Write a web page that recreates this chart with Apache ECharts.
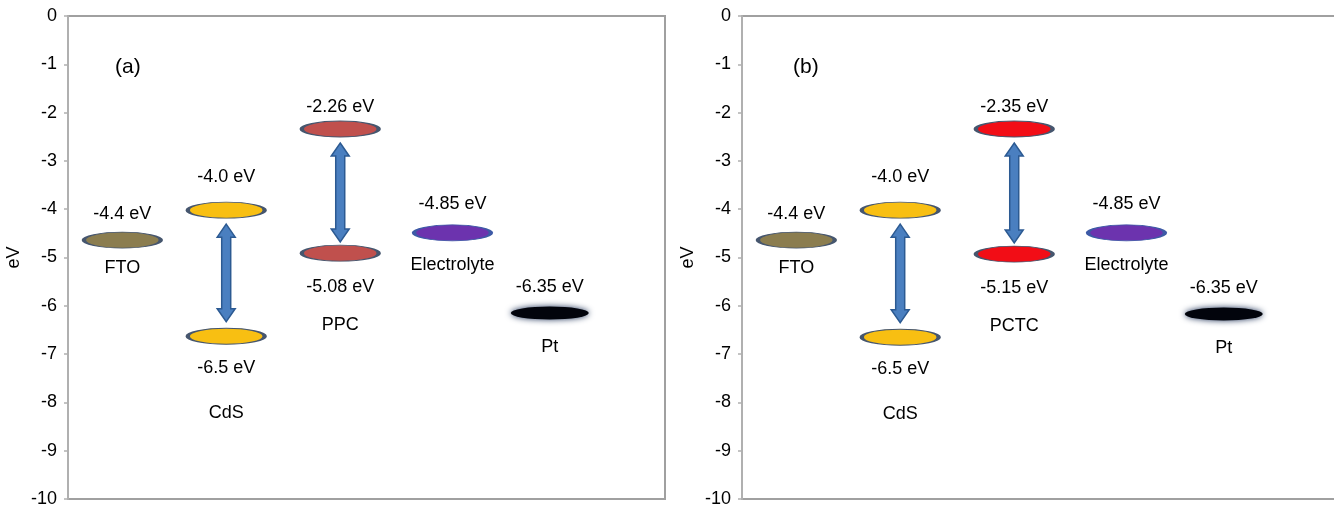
<!DOCTYPE html>
<html>
<head>
<meta charset="utf-8">
<title>Energy levels</title>
<script src="https://cdn.jsdelivr.net/npm/echarts@6/dist/echarts.min.js"></script>
<style>
  html, body { margin: 0; padding: 0; background: #fff; }
  #chart { width: 1334px; height: 506px; }
</style>
</head>
<body>
<div id="chart"></div>
<script>
// level order: FTO, CdS CB, CdS VB, polymer LUMO, polymer HOMO, Electrolyte, Pt
const levelX = [9.1, 26.5, 26.5, 45.6, 45.6, 64.4, 80.7];
const levelsA = [-4.64, -4.02, -6.63, -2.34, -4.91, -4.49, -6.15];
const levelsB = [-4.64, -4.02, -6.65, -2.34, -4.93, -4.49, -6.17];
const energyA = ["-4.4 eV", "-4.0 eV", "-6.5 eV", "-2.26 eV", "-5.08 eV", "-4.85 eV", "-6.35 eV"];
const energyB = ["-4.4 eV", "-4.0 eV", "-6.5 eV", "-2.35 eV", "-5.15 eV", "-4.85 eV", "-6.35 eV"];
const namesA = ["FTO", "CdS", "PPC", "Electrolyte", "Pt"];
const namesB = ["FTO", "CdS", "PCTC", "Electrolyte", "Pt"];
const nameAnchor = [0, 2, 4, 5, 6];
// arrows: [x, top tip, bottom tip]
const arrowsA = [[26.5, -4.31, -6.33], [45.6, -2.63, -4.68]];
const arrowsB = [[26.5, -4.31, -6.35], [45.6, -2.63, -4.70]];
const yTicks = [0, -1, -2, -3, -4, -5, -6, -7, -8, -9, -10];

// layout / style
const energyDy = [-26, -33, 32, -22, 34, -29, -26];
const nameDy = [28, 77, 72, 32, 34];
const fillA = ["#8b7d4f", "#f8bf12", "#f8bf12", "#c0504d", "#c0504d", "#6c33ae", "#000000"];
const fillB = ["#8b7d4f", "#f8bf12", "#f8bf12", "#f20d16", "#f20d16", "#6c33ae", "#000000"];
const font = "'Liberation Sans', Arial, sans-serif";

const chart = echarts.init(document.getElementById("chart"));

const textStyle = {
  color: "#000",
  fontSize: 18,
  fontFamily: font,
  textBorderWidth: 0,
};

function levelSeries(idx, levels, energy, fills) {
  return {
    type: "scatter",
    xAxisIndex: idx,
    yAxisIndex: idx,
    silent: true,
    symbol: "circle",
    symbolSize: [77, 16],
    z: 3,
    data: levels.map((v, i) => {
      const isPt = i === 6;
      return {
        value: [levelX[i], v],
        symbolSize: isPt ? [78, 13] : [77, 16],
        itemStyle: isPt
          ? { color: "#02040c", opacity: 1, shadowBlur: 6, shadowColor: "#22355a" }
          : { color: fills[i], opacity: 1, borderColor: i === 5 ? "#3d5aa6" : "#46566e", borderWidth: 2 },
        label: Object.assign({
          show: true,
          position: "inside",
          offset: [0, energyDy[i]],
          formatter: energy[i],
        }, textStyle),
      };
    }),
  };
}

function nameSeries(idx, levels, names) {
  return {
    type: "scatter",
    xAxisIndex: idx,
    yAxisIndex: idx,
    silent: true,
    symbolSize: 1,
    itemStyle: { color: "transparent", opacity: 1 },
    data: names.map((n, i) => ({
      value: [levelX[nameAnchor[i]], levels[nameAnchor[i]]],
      label: Object.assign({
        show: true,
        position: "inside",
        offset: [0, nameDy[i]],
        formatter: n,
      }, textStyle),
    })),
  };
}

function arrowSeries(idx, arrows) {
  return {
    type: "custom",
    xAxisIndex: idx,
    yAxisIndex: idx,
    silent: true,
    data: arrows,
    renderItem: (params, api) => {
      const top = api.coord([api.value(0), api.value(1)]);
      const bot = api.coord([api.value(0), api.value(2)]);
      const x = top[0];
      const hw = 9, sw = 4.5, hl = 13;
      const pts = [
        [x, top[1]],
        [x + hw, top[1] + hl],
        [x + sw, top[1] + hl],
        [x + sw, bot[1] - hl],
        [x + hw, bot[1] - hl],
        [x, bot[1]],
        [x - hw, bot[1] - hl],
        [x - sw, bot[1] - hl],
        [x - sw, top[1] + hl],
        [x - hw, top[1] + hl],
      ];
      return {
        type: "polygon",
        shape: { points: pts },
        style: { fill: "#4a7fc0", stroke: "#2c5a92", lineWidth: 1.5 },
      };
    },
  };
}

function yAxis(idx) {
  return {
    type: "value",
    gridIndex: idx,
    min: -10,
    max: 0,
    interval: 1,
    name: "eV",
    nameLocation: "middle",
    nameGap: 45,
    nameTextStyle: { color: "#000", fontSize: 18, fontFamily: font },
    axisLine: { show: true, lineStyle: { color: "#b0b0b0", width: 2 } },
    axisTick: { show: true, length: 4, lineStyle: { color: "#b0b0b0", width: 1.5 } },
    axisLabel: {
      color: "#000",
      fontSize: 18,
      fontFamily: font,
      margin: 11,
      formatter: (v) => (yTicks.includes(v) ? String(v) : ""),
    },
    splitLine: { show: false },
  };
}

function xAxis(idx) {
  return { type: "value", gridIndex: idx, min: 0, max: 100, show: false };
}

const gridStyle = {
  show: true,
  borderColor: "#a0a0a0",
  borderWidth: 2,
  backgroundColor: "#fff",
  outerBoundsMode: "none",
};

const option = {
  backgroundColor: "#fff",
  animation: false,
  title: [
    { text: "(a)", left: 110, top: 52, textStyle: { fontSize: 21, fontWeight: "normal", color: "#000", fontFamily: font } },
    { text: "(b)", left: 788, top: 52, textStyle: { fontSize: 21, fontWeight: "normal", color: "#000", fontFamily: font } },
  ],
  grid: [
    Object.assign({ left: 68, top: 16, width: 597, height: 483 }, gridStyle),
    Object.assign({ left: 742, top: 16, width: 597, height: 483 }, gridStyle),
  ],
  xAxis: [xAxis(0), xAxis(1)],
  yAxis: [yAxis(0), yAxis(1)],
  series: [
    levelSeries(0, levelsA, energyA, fillA),
    nameSeries(0, levelsA, namesA),
    arrowSeries(0, arrowsA),
    levelSeries(1, levelsB, energyB, fillB),
    nameSeries(1, levelsB, namesB),
    arrowSeries(1, arrowsB),
  ],
};

chart.setOption(option);
</script>
</body>
</html>
